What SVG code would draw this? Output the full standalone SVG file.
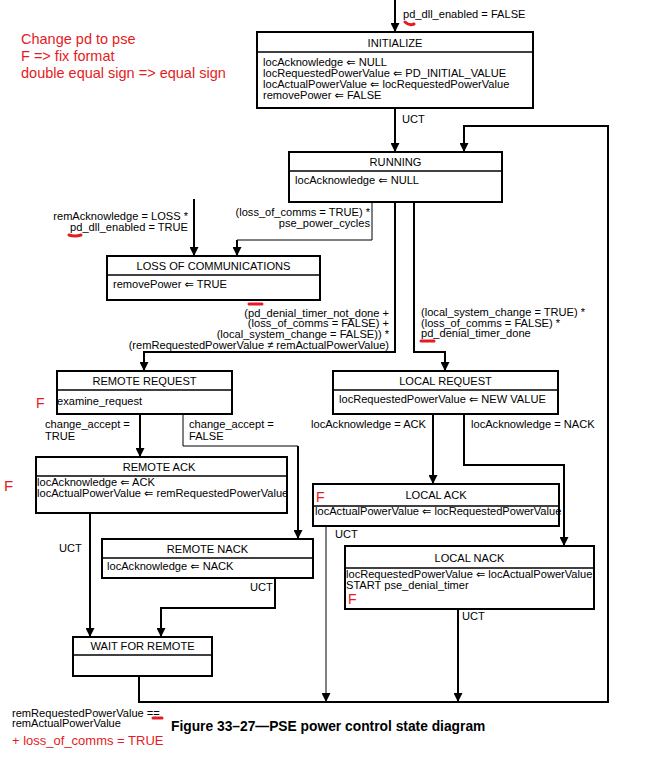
<svg xmlns="http://www.w3.org/2000/svg" width="670" height="764" viewBox="0 0 670 764">
<style>
.box{fill:#fff;stroke:#000;stroke-width:2}
.div{stroke:#000;stroke-width:1.5}
.t{font-family:"Liberation Sans",Arial,"DejaVu Sans",sans-serif;font-size:11.1px;fill:#000}
.c{text-anchor:middle}
.r{text-anchor:end}
.red{font-family:"Liberation Sans",Arial,sans-serif;font-size:14.5px;fill:#e41b23}
.cap{font-family:"Liberation Sans",Arial,sans-serif;font-size:13.8px;font-weight:bold;fill:#000}
.k{fill:none;stroke:#000;stroke-width:2}
.n{fill:none;stroke:#000;stroke-width:1}
.sq{fill:none;stroke:#e41b23;stroke-width:3;stroke-linecap:round}
</style>
<defs>
<marker id="ah" viewBox="0 0 10 10" refX="10" refY="5" markerWidth="9" markerHeight="9" markerUnits="userSpaceOnUse" orient="auto"><path d="M0,0 L10,5 L0,10 z" fill="#000"/></marker>
</defs>
<rect width="670" height="764" fill="#fff"/>

<g id="notes">
<text class="red" x="21" y="44">Change pd to pse</text>
<text class="red" x="21" y="61">F =&gt; fix format</text>
<text class="red" x="21" y="78">double equal sign =&gt; equal sign</text>
</g>

<g id="connectors">
<path class="k" d="M395,0 V32" marker-end="url(#ah)"/>
<path class="k" d="M395,108 V152" marker-end="url(#ah)"/>
<path class="k" d="M139,676 V702 H608 V126 H464 V152" marker-end="url(#ah)"/>
<path class="n" d="M372,202 V240 H237"/>
<path class="k" d="M237,240 V256" marker-end="url(#ah)"/>
<path class="k" d="M194,199 V256" marker-end="url(#ah)"/>
<path class="k" d="M395,202 V352 H144 V371" marker-end="url(#ah)"/>
<path class="k" d="M414,202 V352 H445 V371" marker-end="url(#ah)"/>
<path class="k" d="M140,414 V457" marker-end="url(#ah)"/>
<path class="n" d="M183,414 V446 H298"/>
<path class="k" d="M298,446 V539" marker-end="url(#ah)"/>
<path class="k" d="M433,414 V484" marker-end="url(#ah)"/>
<path class="k" d="M464,414 V465 H564 V546" marker-end="url(#ah)"/>
<path class="k" d="M90,513 V637" marker-end="url(#ah)"/>
<path class="k" d="M275,578 V608 H161 V637" marker-end="url(#ah)"/>
<path class="n" d="M326,526 V702" marker-end="url(#ah)"/>
<path class="k" d="M458,609 V702" marker-end="url(#ah)"/>
</g>

<g id="labels">
<text class="t" x="403" y="18">pd_dll_enabled = FALSE</text>
<text class="t" x="402" y="123">UCT</text>
<text class="t r" x="188" y="220">remAcknowledge = LOSS *</text>
<text class="t r" x="188" y="231">pd_dll_enabled = TRUE</text>
<text class="t r" x="370" y="216">(loss_of_comms = TRUE) *</text>
<text class="t r" x="370" y="227">pse_power_cycles</text>
<text class="t r" x="389" y="317">(pd_denial_timer_not_done +</text>
<text class="t r" x="389" y="327">(loss_of_comms = FALSE) +</text>
<text class="t r" x="389" y="338">(local_system_change = FALSE)) *</text>
<text class="t r" x="389" y="349">(remRequestedPowerValue ≠ remActualPowerValue)</text>
<text class="t" x="421" y="316">(local_system_change = TRUE) *</text>
<text class="t" x="421" y="327">(loss_of_comms = FALSE) *</text>
<text class="t" x="421" y="337">pd_denial_timer_done</text>
<text class="t" x="45" y="428">change_accept =</text>
<text class="t" x="45" y="440">TRUE</text>
<text class="t" x="189" y="428">change_accept =</text>
<text class="t" x="189" y="440">FALSE</text>
<text class="t" x="311" y="428">locAcknowledge = ACK</text>
<text class="t" x="471" y="428">locAcknowledge = NACK</text>
<text class="t" x="59" y="552">UCT</text>
<text class="t" x="250" y="591">UCT</text>
<text class="t" x="335" y="538">UCT</text>
<text class="t" x="462" y="620">UCT</text>
<text class="t" x="12" y="717">remRequestedPowerValue ==</text>
<text class="t" x="12" y="727">remActualPowerValue</text>
<text class="red" x="12" y="745" style="font-size:13px">+ loss_of_comms = TRUE</text>
<text class="cap" x="171" y="731">Figure 33–27—PSE power control state diagram</text>
</g>

<g id="marks">
<path class="sq" d="M405,22 Q409,26 414,24"/>
<path class="sq" d="M69,235 Q75,237 81,235"/>
<path class="sq" d="M249,304 H262"/>
<path class="sq" d="M421,341 H434"/>
<path class="sq" d="M153,718 H162"/>
</g>

<g id="initialize">
<rect class="box" x="257" y="32" width="276" height="76"/>
<line class="div" x1="257" y1="52" x2="533" y2="52"/>
<text class="t c" x="395" y="47">INITIALIZE</text>
<text class="t" x="263" y="66">locAcknowledge ⇐ NULL</text>
<text class="t" x="263" y="77">locRequestedPowerValue ⇐ PD_INITIAL_VALUE</text>
<text class="t" x="263" y="88">locActualPowerValue ⇐ locRequestedPowerValue</text>
<text class="t" x="263" y="99">removePower ⇐ FALSE</text>
</g>

<g id="running">
<rect class="box" x="289" y="152" width="213" height="50"/>
<line class="div" x1="289" y1="171" x2="502" y2="171"/>
<text class="t c" x="395.5" y="166">RUNNING</text>
<text class="t" x="295" y="184">locAcknowledge ⇐ NULL</text>
</g>

<g id="loss">
<rect class="box" x="107" y="256" width="213" height="44"/>
<line class="div" x1="107" y1="275" x2="320" y2="275"/>
<text class="t c" x="213.5" y="270">LOSS OF COMMUNICATIONS</text>
<text class="t" x="113" y="288">removePower ⇐ TRUE</text>
</g>

<g id="remote_request">
<rect class="box" x="57" y="371" width="175" height="43"/>
<line class="div" x1="57" y1="390" x2="232" y2="390"/>
<text class="t c" x="144.5" y="385">REMOTE REQUEST</text>
<text class="t" x="57" y="405">examine_request</text>
</g>

<g id="local_request">
<rect class="box" x="333" y="371" width="225" height="43"/>
<line class="div" x1="333" y1="390" x2="558" y2="390"/>
<text class="t c" x="445.5" y="385">LOCAL REQUEST</text>
<text class="t" x="339" y="403">locRequestedPowerValue ⇐ NEW VALUE</text>
</g>

<g id="remote_ack">
<rect class="box" x="36" y="457" width="251" height="56"/>
<line class="div" x1="36" y1="476" x2="287" y2="476"/>
<text class="t c" x="159" y="471">REMOTE ACK</text>
<text class="t" x="37" y="486">locAcknowledge ⇐ ACK</text>
<text class="t" x="37" y="497">locActualPowerValue ⇐ remRequestedPowerValue</text>
</g>

<g id="local_ack">
<rect class="box" x="313" y="484" width="246" height="42"/>
<line class="div" x1="313" y1="506" x2="559" y2="506"/>
<text class="t c" x="436" y="499">LOCAL ACK</text>
<text class="t" x="315" y="515">locActualPowerValue ⇐ locRequestedPowerValue</text>
</g>

<g id="remote_nack">
<rect class="box" x="102" y="539" width="211" height="39"/>
<line class="div" x1="102" y1="558" x2="313" y2="558"/>
<text class="t c" x="207.5" y="553">REMOTE NACK</text>
<text class="t" x="107" y="570">locAcknowledge ⇐ NACK</text>
</g>

<g id="local_nack">
<rect class="box" x="345" y="546" width="249" height="63"/>
<line class="div" x1="345" y1="568" x2="594" y2="568"/>
<text class="t c" x="469.5" y="562">LOCAL NACK</text>
<text class="t" x="346" y="578">locRequestedPowerValue ⇐ locActualPowerValue</text>
<text class="t" x="346" y="589">START pse_denial_timer</text>
</g>

<g id="wait_for_remote">
<rect class="box" x="73" y="637" width="139" height="39"/>
<line class="div" x1="73" y1="655" x2="212" y2="655"/>
<text class="t c" x="142.5" y="650">WAIT FOR REMOTE</text>
</g>

<g id="fix_marks">
<text class="red" x="36" y="408" style="font-size:14px">F</text>
<text class="red" x="4" y="491" style="font-size:15px">F</text>
<text class="red" x="316" y="502" style="font-size:14px">F</text>
<text class="red" x="348" y="604" style="font-size:14px">F</text>
</g>
</svg>
